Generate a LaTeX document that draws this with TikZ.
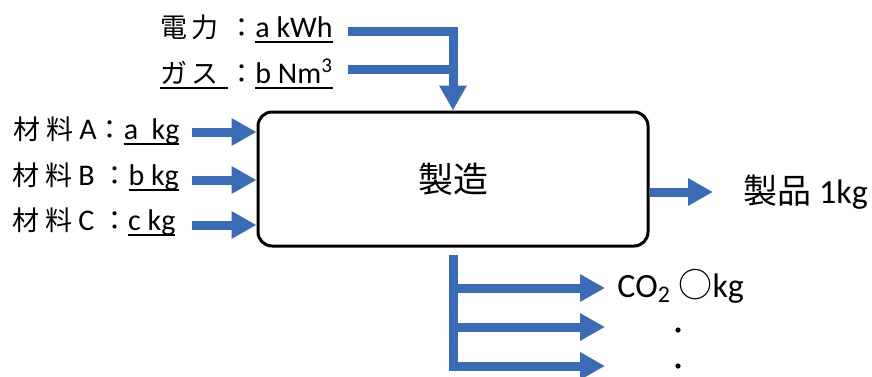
\documentclass[tikz,border=0pt]{standalone}
\usepackage{fontspec}
\setmainfont{Carlito}
\newfontfamily\jp{Noto Sans CJK JP}
\usetikzlibrary{arrows.meta}
\definecolor{flowblue}{RGB}{59,107,180}
% underline at a fixed depth below the baseline
\newcommand{\uln}[1]{\leavevmode\setbox0=\hbox{#1}\rlap{\rule[-3pt]{\wd0}{0.9pt}}\box0}
% small japanese text in the labels
\newcommand{\jps}{\jp\fontsize{13.5}{16}\selectfont}
\tikzset{
  flow/.style={draw=flowblue, line width=4.5pt, -{Triangle[width=13pt,length=12.5pt]}},
  flowline/.style={draw=flowblue, line width=4.5pt},
  lbl/.style={inner sep=0pt, anchor=base west, font=\fontsize{15}{17}\selectfont},
  biglbl/.style={inner sep=0pt, anchor=base west, font=\fontsize{17}{20}\selectfont},
  vdot/.style={circle, fill, inner sep=0pt, minimum size=2.6pt},
}

\begin{document}
\begin{tikzpicture}[x=0.5pt,y=-0.5pt]
\useasboundingbox (0,0) rectangle (872,376);
% process box
\node[draw, line width=1.5pt, rounded corners=7pt, minimum width=195pt, minimum height=67pt,
  font=\jp\fontsize{17.5}{20}\selectfont] (mfg) at (453,179) {製造};
% energy inputs
\node[lbl] (elec) at (160,37) {{\jps 電\hspace{2pt}力\hspace{2pt} ：}\uln{a kWh}};
\node[lbl] (gas) at (160,83) {{\jps\uln{ガ\hspace{2pt}ス\hspace{2pt} } ：}\uln{b Nm\textsuperscript{3}}};
\coordinate (elecsrc) at (348,31);
\coordinate (gassrc) at (348,69);
\draw[flow] (elecsrc) -| (mfg.north);
\draw[flowline] (gassrc) -- (gassrc -| mfg.north);
% materials
\node[lbl] (matA) at (13,139) {{\jps 材\hspace{3pt}料\hspace{3pt}}A{\jps ：}\uln{a\ \ kg}};
\node[lbl] (matB) at (12,185) {{\jps 材\hspace{3pt}料\hspace{3pt}}B {\jps ：}\uln{b kg}};
\node[lbl] (matC) at (12,230) {{\jps 材\hspace{3pt}料\hspace{3pt}}C {\jps ：}\uln{c kg}};
\foreach \name/\y in {A/132,B/180,C/225}{
  \coordinate (in\name) at (192,\y);
  \draw[flow] (in\name) -- (in\name -| mfg.west);
}
% product
\coordinate (outtip) at (713,192);
\draw[flow] (outtip -| mfg.east) -- (outtip);
\node[biglbl] (prod) at (743,203) {{\jp 製品} 1kg};
% emissions
\draw[flowline] ([yshift=-3.5pt]mfg.south) -- (mfg.south |- 0,371);
\foreach \k/\y in {1/288,2/327,3/366}{
  \coordinate (out\k) at (605,\y);
  \draw[flow] (out\k -| mfg.south) -- (out\k);
}
\node[biglbl] (co2) at (617,297) {CO\textsubscript{2} {\jp ○}kg};
\node[vdot] (dot1) at (678,330) {};
\node[vdot] (dot2) at (678,366) {};
\end{tikzpicture}
\end{document}
